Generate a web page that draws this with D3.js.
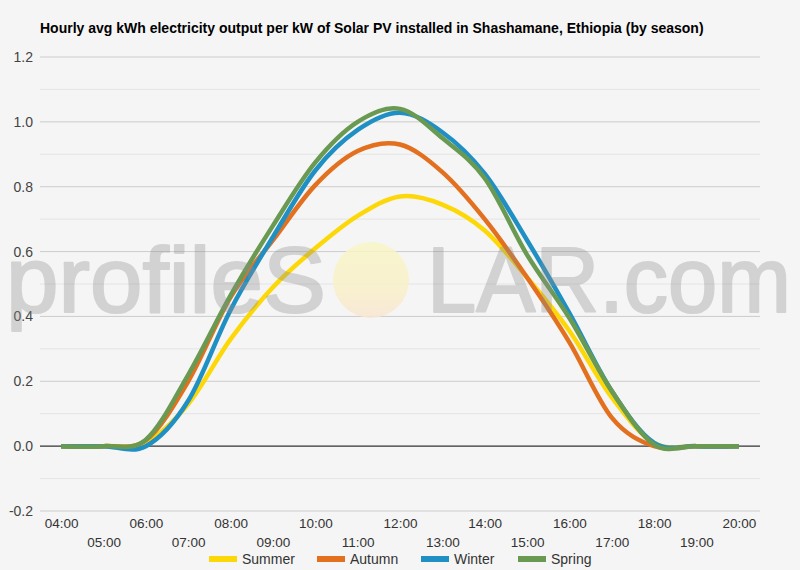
<!DOCTYPE html>
<html><head><meta charset="utf-8">
<script src="https://cdn.jsdelivr.net/npm/d3@7"></script>
<style>
html,body{margin:0;padding:0;background:#f5f5f5;}
svg{display:block;font-family:"Liberation Sans",Arial,sans-serif;}
</style></head>
<body><svg id="c" width="800" height="570"></svg>
<script>
const hours = ["04:00","05:00","06:00","07:00","08:00","09:00","10:00","11:00","12:00","13:00","14:00","15:00","16:00","17:00","18:00","19:00","20:00"];
const seriesNames = ["Summer","Autumn","Winter","Spring"];
const seriesColors = ["#fdd808","#e2701f","#2090c4","#6a9a52"];
const summer = [0,0,0.012,0.13,0.33,0.49,0.61,0.71,0.77,0.745,0.665,0.52,0.355,0.15,0.01,0,0];
const autumn = [0,0,0.018,0.2,0.46,0.635,0.805,0.91,0.93,0.845,0.70,0.52,0.32,0.088,0,0,0];
const winter = [0,0,0,0.14,0.42,0.645,0.85,0.975,1.028,0.968,0.84,0.635,0.41,0.17,0.01,0,0];
const spring = [0,0,0.02,0.22,0.465,0.68,0.875,1.0,1.04,0.95,0.826,0.59,0.395,0.17,0.005,0,0];
const yTicks = [-0.2,0,0.2,0.4,0.6,0.8,1.0,1.2];
const yMinor = [-0.1,0.1,0.3,0.5,0.7,0.9,1.1];
const title = "Hourly avg kWh electricity output per kW of Solar PV installed in Shashamane, Ethiopia (by season)";

const allSeries = [summer, autumn, winter, spring];
const svg = d3.select("#c");
const L = 40, R = 760, T = 57, B = 511;
const x = d3.scalePoint().domain(hours).range([L, R]).padding(0.5);
const y = d3.scaleLinear().domain([-0.2, 1.2]).range([B, T]);

svg.append("rect").attr("width",800).attr("height",570).attr("fill","#f5f5f5");

svg.append("text").attr("x",40).attr("y",33).attr("font-size",14).attr("font-weight","bold")
  .attr("fill","#000").text(title);

// minor grid
svg.append("g").selectAll("line").data(yMinor).join("line")
  .attr("x1",L).attr("x2",R).attr("y1",d=>y(d)).attr("y2",d=>y(d))
  .attr("stroke","#e4e4e4").attr("stroke-width",1);
// major grid
svg.append("g").selectAll("line").data(yTicks.filter(d=>d!==0)).join("line")
  .attr("x1",L).attr("x2",R).attr("y1",d=>y(d)).attr("y2",d=>y(d))
  .attr("stroke","#cccccc").attr("stroke-width",1);

// y axis labels
const fmt = d3.format(".1f");
const yAxis = d3.axisLeft(y).tickValues(yTicks).tickFormat(d=>fmt(d).replace("\u2212","-")).tickSize(0).tickPadding(0);
const gy = svg.append("g").attr("transform",`translate(33,0)`).call(yAxis);
gy.select(".domain").remove();
gy.selectAll("text").attr("font-size",14).attr("fill","#444").attr("font-family","Liberation Sans, Arial, sans-serif");

// x axis labels
const xAxis = d3.axisBottom(x).tickSize(0).tickPadding(0);
const gx = svg.append("g").call(xAxis);
gx.select(".domain").remove();
gx.selectAll("text")
  .attr("font-size",13.5).attr("fill","#333").attr("font-family","Liberation Sans, Arial, sans-serif")
  .attr("dy",null).attr("dominant-baseline","central")
  .attr("y",(d,i)=> i%2===0 ? 523 : 542);

// zero line
svg.append("line").attr("x1",L).attr("x2",R).attr("y1",y(0)).attr("y2",y(0))
  .attr("stroke","#333").attr("stroke-width",1.2);

// lines
const line = d3.line().x((d,i)=>x(hours[i])).y(d=>y(d)).curve(d3.curveCardinal);
svg.append("g").selectAll("path").data(allSeries).join("path")
  .attr("d",d=>line(d)).attr("fill","none")
  .attr("stroke",(d,i)=>seriesColors[i]).attr("stroke-width",4.5)
  .attr("stroke-linejoin","round").attr("stroke-linecap","butt");

// watermark
const defs = svg.append("defs");
const gr = defs.append("linearGradient").attr("id","sun").attr("x1",0).attr("y1",0).attr("x2",0).attr("y2",1);
gr.append("stop").attr("offset","0%").attr("stop-color","#f8f6c6");
gr.append("stop").attr("offset","60%").attr("stop-color","#f9f0c8");
gr.append("stop").attr("offset","100%").attr("stop-color","#f8e6d2");
svg.append("ellipse").attr("cx",371).attr("cy",280).attr("rx",38).attr("ry",38)
  .attr("fill","url(#sun)").attr("opacity",0.85);
const wm = svg.append("g").attr("fill","#8c8c8c").attr("stroke","#8c8c8c").attr("stroke-width",2.2)
  .attr("stroke-linejoin","round").attr("opacity",0.33)
  .attr("font-family","Liberation Sans, Arial, sans-serif").attr("font-size",92);
wm.append("text").attr("x",6).attr("y",312).attr("textLength",320).attr("lengthAdjust","spacingAndGlyphs").text("profileS");
wm.append("text").attr("x",427).attr("y",312).attr("textLength",364).attr("lengthAdjust","spacingAndGlyphs").text("LAR.com");

// legend
const legX = [209,317,421,518];
const lg = svg.append("g").selectAll("g").data(seriesNames).join("g")
  .attr("transform",(d,i)=>`translate(${legX[i]},559)`);
lg.append("rect").attr("x",0).attr("y",-3).attr("width",28).attr("height",6)
  .attr("fill",(d,i)=>seriesColors[i]);
lg.append("text").attr("x",33).attr("y",0).attr("dominant-baseline","central")
  .attr("font-size",14).attr("fill","#333").text(d=>d);
</script></body></html>
